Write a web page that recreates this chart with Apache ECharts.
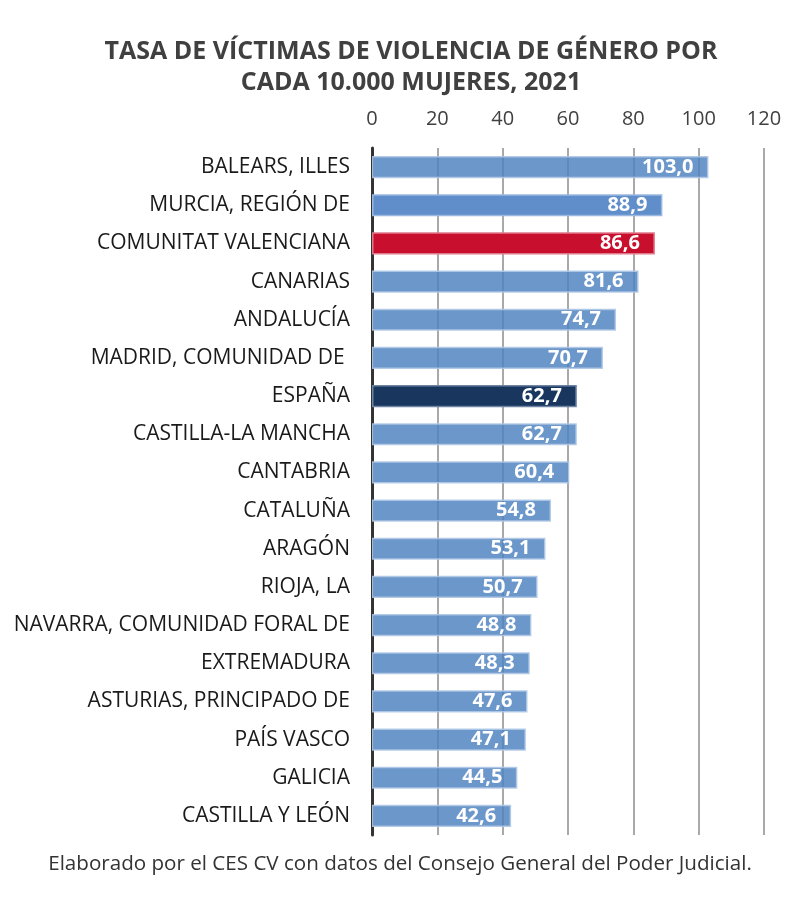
<!DOCTYPE html>
<html lang="es">
<head>
<meta charset="utf-8">
<script src="https://cdn.jsdelivr.net/npm/echarts@6/dist/echarts.min.js"></script>
<style>
  html, body { margin: 0; padding: 0; background: #fff; }
  #chartMain { width: 785px; height: 897px; }
</style>
</head>
<body>
<div id="chartMain"></div>
<script>
    // datos
    var regiones = ['BALEARS, ILLES', 'MURCIA, REGIÓN DE', 'COMUNITAT VALENCIANA', 'CANARIAS', 'ANDALUCÍA',
        'MADRID, COMUNIDAD DE ', 'ESPAÑA', 'CASTILLA-LA MANCHA', 'CANTABRIA', 'CATALUÑA', 'ARAGÓN',
        'RIOJA, LA', 'NAVARRA, COMUNIDAD FORAL DE', 'EXTREMADURA', 'ASTURIAS, PRINCIPADO DE',
        'PAÍS VASCO', 'GALICIA', 'CASTILLA Y LEÓN'];
    var tasas = [103.0, 88.9, 86.6, 81.6, 74.7, 70.7, 62.7, 62.7, 60.4, 54.8, 53.1, 50.7, 48.8, 48.3, 47.6, 47.1, 44.5, 42.6];
    var ticks = [0, 20, 40, 60, 80, 100, 120];

    var estilos = {
        'COMUNITAT VALENCIANA': { color: '#c8102e', borderColor: '#e07a8a' },
        'ESPAÑA': { color: '#18365e', borderColor: '#6d84a3' },
        'MURCIA, REGIÓN DE': { color: '#5f8ecb', borderColor: '#9ab8e0' }
    };

    var datos = regiones.map(function (r, i) {
        var e = estilos[r] || { color: 'rgba(79,131,192,0.84)', borderColor: 'rgba(175,200,230,0.9)' };
        return { value: tasas[i], itemStyle: { color: e.color, borderColor: e.borderColor, borderWidth: 1.5 } };
    });

    var myChart = echarts.init(document.getElementById('chartMain'));
    myChart.setOption({
        animation: false,
        title: [{
            text: 'TASA DE VÍCTIMAS DE VIOLENCIA DE GÉNERO POR\nCADA 10.000 MUJERES, 2021',
            left: 406, top: 31, textAlign: 'center',
            textStyle: { fontFamily: 'Open Sans', fontWeight: 'bold', fontSize: 25, lineHeight: 31, color: '#404040' }
        }, {
            text: 'Elaborado por el CES CV con datos del Consejo General del Poder Judicial.',
            left: 395, top: 849, textAlign: 'center',
            textStyle: { fontFamily: 'Open Sans', fontWeight: 'normal', fontSize: 20.6, color: '#333' }
        }],
        grid: { left: 372, right: 21, top: 148, bottom: 62, containLabel: false },
        xAxis: {
            type: 'value', position: 'top', min: 0, max: 120, interval: 20,
            axisLine: { show: false }, axisTick: { show: false },
            axisLabel: { fontFamily: 'Open Sans', fontSize: 20, color: '#404040', margin: 19,
                formatter: function (v) { return ticks.indexOf(v) >= 0 ? String(v) : ''; } },
            splitLine: { show: true, lineStyle: { color: '#8c8c8c', width: 1.5 } }
        },
        yAxis: {
            type: 'category', data: regiones, inverse: true,
            axisLine: { show: true, lineStyle: { color: '#333', width: 3 } },
            axisTick: { show: false },
            axisLabel: { fontFamily: 'Open Sans', fontSize: 21, color: '#1a1a1a', margin: 22 }
        },
        series: [{
            type: 'bar', data: datos, barWidth: '58%', z: 1,
            label: {
                show: true, position: 'insideRight', distance: 15,
                fontFamily: 'Open Sans', fontWeight: 'bold', fontSize: 20, color: '#fff',
                formatter: function (p) { return p.value.toFixed(1).replace('.', ','); }
            }
        }]
    });
</script>
</body>
</html>
